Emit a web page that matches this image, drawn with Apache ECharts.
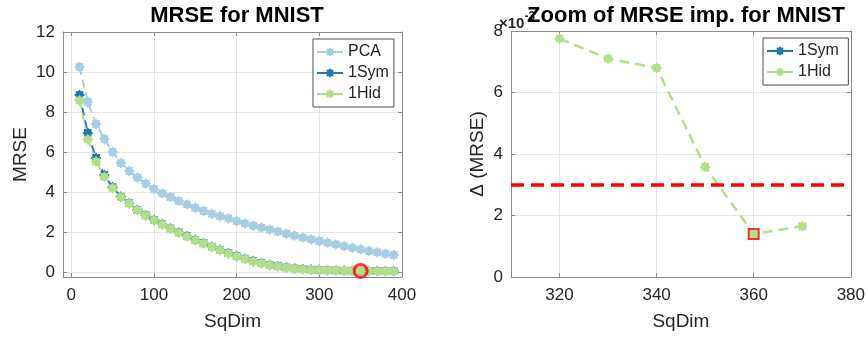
<!DOCTYPE html>
<html>
<head>
<meta charset="utf-8">
<script src="https://cdn.jsdelivr.net/npm/echarts@6.0.0/dist/echarts.min.js"></script>
<style>
  html, body { margin: 0; padding: 0; background: #fff; }
  #chart { width: 868px; height: 338px; }
</style>
</head>
<body>
<div id="chart"></div>
<script>
// left panel: MRSE vs SqDim
const sqDim = [10, 20, 30, 40, 50, 60, 70, 80, 90, 100, 110, 120, 130, 140, 150, 160, 170, 180, 190, 200,
    210, 220, 230, 240, 250, 260, 270, 280, 290, 300, 310, 320, 330, 340, 350, 360, 370, 380, 390];
const pcaMrse = [10.25, 8.50, 7.40, 6.65, 6.00, 5.45, 5.05, 4.72, 4.42, 4.15, 3.93, 3.75, 3.55, 3.38, 3.21, 3.05, 2.91, 2.79, 2.68, 2.54,
    2.43, 2.32, 2.22, 2.12, 2.02, 1.92, 1.82, 1.72, 1.63, 1.55, 1.46, 1.38, 1.29, 1.21, 1.13, 1.05, 0.98, 0.91, 0.85];
const sym1Mrse = [8.85, 6.95, 5.70, 4.85, 4.24, 3.77, 3.44, 3.11, 2.84, 2.61, 2.39, 2.18, 1.98, 1.79, 1.61, 1.44, 1.27, 1.11, 0.95, 0.80,
    0.67, 0.55, 0.45, 0.36, 0.29, 0.23, 0.18, 0.145, 0.12, 0.10, 0.088, 0.079, 0.071, 0.064, 0.059, 0.056, 0.054, 0.052, 0.051];
const hid1Mrse = [8.58, 6.63, 5.52, 4.76, 4.19, 3.74, 3.42, 3.09, 2.82, 2.59, 2.37, 2.16, 1.96, 1.77, 1.59, 1.42, 1.25, 1.09, 0.93, 0.78,
    0.65, 0.53, 0.43, 0.34, 0.27, 0.21, 0.16, 0.13, 0.105, 0.09, 0.078, 0.070, 0.063, 0.057, 0.052, 0.050, 0.048, 0.047, 0.046];
const bestDimLeft = 350;

// right panel: improvement of MRSE (x 10^-3)
const zoomDim = [320, 330, 340, 350, 360, 370];
const hid1Delta = [7.75, 7.1, 6.8, 3.58, 1.4, 1.65];
const sym1Delta = [];
const deltaThreshold = 3;
const bestDimRight = 360;

const cPca = '#a6cee3';
const cSym = '#1f78b4';
const cHid = '#b2df8a';
const font = 'Liberation Sans, Arial, Helvetica, sans-serif';
const axisGray = '#8c8c8c';
const textGray = '#262626';

// matlab-ish '*' marker drawn as a blunt 8 point star
const starPath = (() => {
    let d = '';
    for (let i = 0; i < 16; i++) {
        const a = Math.PI * i / 8;
        const r = i % 2 === 0 ? 1 : 0.72;
        d += (i === 0 ? 'M' : 'L') + (r * Math.cos(a)).toFixed(3) + ' ' + (r * Math.sin(a)).toFixed(3) + ' ';
    }
    return 'path://' + d + 'Z';
})();

const chart = echarts.init(document.getElementById('chart'), null, {renderer: 'canvas'});

const pairs = (xs, ys) => xs.map((x, i) => [x, ys[i]]).filter(p => p[1] !== undefined);

const tickLabel = (step) => ({
    color: textGray, fontSize: 17, fontFamily: font,
    formatter: v => (Math.abs(v / step - Math.round(v / step)) < 1e-6 ? String(Math.round(v * 1000) / 1000) : '')
});

const baseAxis = {
    axisLine: {show: true, onZero: false, lineStyle: {color: axisGray, width: 1}},
    axisTick: {show: true, inside: true, length: 4, lineStyle: {color: axisGray}},
    splitLine: {show: false},
    nameTextStyle: {color: textGray, fontSize: 19, fontFamily: font},
};

const grids = [
    {left: 63, top: 32, width: 339, height: 245},
    {left: 511, top: 31, width: 340, height: 246}
];

const xAxes = [
    Object.assign({}, baseAxis, {
        gridIndex: 0, type: 'value', position: 'bottom', min: -10, max: 400, splitNumber: 4,
        name: 'SqDim', nameLocation: 'middle', nameGap: 35,
        axisLabel: Object.assign(tickLabel(100), {margin: 10}),
        splitLine: {show: true, lineStyle: {color: '#e6e6e6'}}
    }),
    Object.assign({}, baseAxis, {
        gridIndex: 0, type: 'value', position: 'top', min: -10, max: 400, splitNumber: 4,
        axisLabel: {show: false}
    }),
    Object.assign({}, baseAxis, {
        gridIndex: 1, type: 'value', position: 'bottom', min: 310, max: 380, splitNumber: 4,
        name: 'SqDim', nameLocation: 'middle', nameGap: 35,
        axisLabel: Object.assign(tickLabel(20), {margin: 10}),
        splitLine: {show: true, lineStyle: {color: '#e6e6e6'}}
    }),
    Object.assign({}, baseAxis, {
        gridIndex: 1, type: 'value', position: 'top', min: 310, max: 380, splitNumber: 4,
        axisLabel: {show: false}
    })
];

const yAxes = [
    Object.assign({}, baseAxis, {
        gridIndex: 0, type: 'value', position: 'left', min: -0.25, max: 12, splitNumber: 6,
        name: 'MRSE', nameLocation: 'middle', nameGap: 33,
        axisLabel: Object.assign(tickLabel(2), {margin: 8}),
        splitLine: {show: true, lineStyle: {color: '#e6e6e6'}}
    }),
    Object.assign({}, baseAxis, {
        gridIndex: 0, type: 'value', position: 'right', min: -0.25, max: 12, splitNumber: 6,
        axisLabel: {show: false}
    }),
    Object.assign({}, baseAxis, {
        gridIndex: 1, type: 'value', position: 'left', min: 0, max: 8, interval: 2,
        name: '\u0394 (MRSE)', nameLocation: 'middle', nameGap: 24,
        axisLabel: Object.assign(tickLabel(2), {margin: 8}),
        splitLine: {show: true, lineStyle: {color: '#e6e6e6'}}
    }),
    Object.assign({}, baseAxis, {
        gridIndex: 1, type: 'value', position: 'right', min: 0, max: 8, interval: 2,
        axisLabel: {show: false}
    })
];

const lineSeries = (name, color, data, xi, yi, dash, width) => ({
    name: name,
    type: 'line',
    xAxisIndex: xi,
    yAxisIndex: yi,
    data: data,
    symbol: starPath,
    symbolSize: 11,
    showAllSymbol: true,
    itemStyle: {color: color},
    lineStyle: {color: color, width: width, type: dash},
    emphasis: {disabled: true},
    z: 2
});

const hidIdxLeft = sqDim.indexOf(bestDimLeft);
const hidIdxRight = zoomDim.indexOf(bestDimRight);

const legendBase = {
    orient: 'vertical',
    padding: [5, 5, 5, 3], itemGap: 5, itemWidth: 26, itemHeight: 12,
    backgroundColor: '#fff', borderColor: '#4d4d4d', borderWidth: 1, borderRadius: 0,
    textStyle: {fontSize: 16, color: textGray, fontFamily: font},
    selectedMode: false
};

const option = {
    animation: false,
    backgroundColor: '#fff',
    title: [
        {text: 'MRSE for MNIST', left: 232, top: 0, textAlign: 'center',
            textStyle: {fontSize: 22, fontWeight: 'bold', color: '#000', fontFamily: font}},
        {text: '{a|\u00d710}{b|-3}', left: 494, top: 3,
            textStyle: {rich: {
                a: {fontSize: 15, color: textGray, fontFamily: font, padding: [8, 0, 0, 0]},
                b: {fontSize: 12, color: textGray, fontFamily: font, padding: [0, 0, 6, 0]}
            }}},
        {text: 'Zoom of MRSE imp. for MNIST', left: 681, top: 0, textAlign: 'center',
            textStyle: {fontSize: 22, fontWeight: 'bold', color: '#000', fontFamily: font}}
    ],
    grid: grids,
    xAxis: xAxes,
    yAxis: yAxes,
    legend: [
        Object.assign({}, legendBase, {
            data: ['PCA', '1Sym', '1Hid'], left: 313, top: 39,
            lineStyle: {type: 'solid'}
        }),
        Object.assign({}, legendBase, {
            data: ['1Sym ', '1Hid '], left: 763, top: 38
        })
    ],
    series: [
        lineSeries('PCA', cPca, pairs(sqDim, pcaMrse), 0, 0, [8, 5], 2),
        lineSeries('1Sym', cSym, pairs(sqDim, sym1Mrse), 0, 0, [8, 5], 2),
        lineSeries('1Hid', cHid, pairs(sqDim, hid1Mrse), 0, 0, [8, 5], 2),
        {
            type: 'scatter', xAxisIndex: 0, yAxisIndex: 0,
            data: [[bestDimLeft, hid1Mrse[hidIdxLeft]]],
            symbol: 'circle', symbolSize: 13,
            itemStyle: {color: 'rgba(0,0,0,0)', borderColor: '#ff0000', borderWidth: 3},
            emphasis: {disabled: true}, z: 5
        },
        lineSeries('1Sym ', cSym, pairs(zoomDim, sym1Delta), 2, 2, [10, 6], 2.5),
        Object.assign(lineSeries('1Hid ', cHid, pairs(zoomDim, hid1Delta), 2, 2, [10, 6], 2.5), {
            markLine: {
                silent: true, symbol: 'none', label: {show: false},
                lineStyle: {color: '#ff0000', width: 3.5, type: [13, 7]},
                data: [{yAxis: deltaThreshold}]
            }
        }),
        {
            type: 'scatter', xAxisIndex: 2, yAxisIndex: 2,
            data: [[bestDimRight, hid1Delta[hidIdxRight]]],
            symbol: 'rect', symbolSize: 10,
            itemStyle: {color: cHid, borderColor: '#ff0000', borderWidth: 2},
            emphasis: {disabled: true}, z: 5
        }
    ]
};

chart.setOption(option);
</script>
</body>
</html>
